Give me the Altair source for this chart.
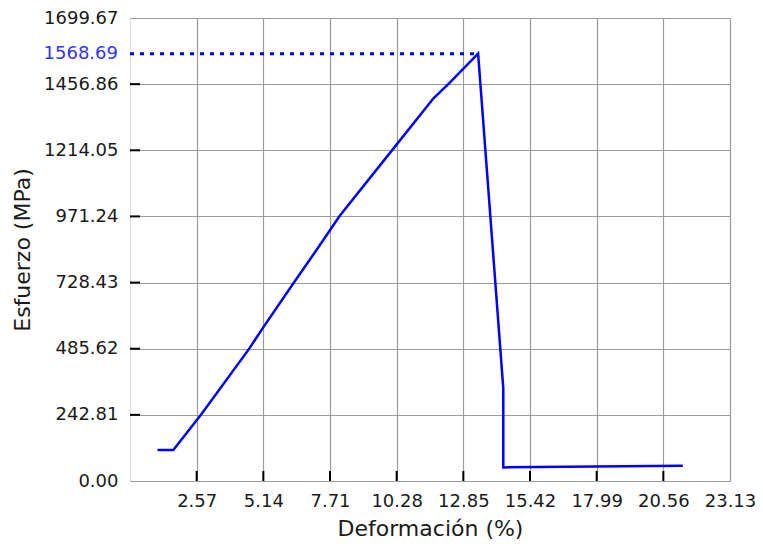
import altair as alt
import pandas as pd

# Curve
strain = [1.06, 1.67, 2.75, 4.59, 5.15, 6.30, 7.19, 8.08, 10.26, 11.70, 12.27, 13.42, 14.39, 14.39, 21.31]
stress = [114, 114, 245, 485, 566, 726, 848, 973, 1233, 1405, 1457, 1568.69, 340, 50, 56]

x_ticks = [2.57, 5.14, 7.71, 10.28, 12.85, 15.42, 17.99, 20.56, 23.13]
y_ticks = [0.00, 242.81, 485.62, 728.43, 971.24, 1214.05, 1456.86, 1699.67]
peak_x = 13.42
peak_y = 1568.69

FONT = "DejaVu Sans"
W, H = 600, 463

curve = pd.DataFrame({"x": strain, "y": stress, "i": list(range(len(strain)))})
peak_df = pd.DataFrame({"x": [0.0], "x2": [peak_x], "y": [peak_y], "lab": [f"{peak_y:.2f}"]})
xt_df = pd.DataFrame({"x": x_ticks[:-1]})
yt_df = pd.DataFrame({"y": y_ticks[1:-1]})

xs = alt.Scale(domain=[0, 23.13], nice=False, zero=False)
ys = alt.Scale(domain=[0, 1699.67], nice=False, zero=False)

xaxis = alt.Axis(values=x_ticks, format=".2f", title="Deformación (%)", grid=True,
                 gridColor="#9b9b9b", gridWidth=1.2, ticks=False, tickSize=0, domain=False,
                 labelFont=FONT, labelFontSize=18, labelColor="#1a1a1a", labelPadding=11,
                 labelFlush=False, labelOverlap=False, titleFont=FONT, titleFontSize=22,
                 titleFontWeight="normal", titleColor="#1a1a1a", titlePadding=8)
yaxis = alt.Axis(values=y_ticks, format=".2f", title="Esfuerzo (MPa)", grid=True,
                 gridColor="#9b9b9b", gridWidth=1.2, ticks=False, tickSize=0, domain=False,
                 labelFont=FONT, labelFontSize=18, labelColor="#1a1a1a", labelPadding=12,
                 labelFlush=False, labelOverlap=False, titleFont=FONT, titleFontSize=22,
                 titleFontWeight="normal", titleColor="#1a1a1a", titlePadding=9)


def X(field):
    return alt.X(field, type="quantitative", scale=xs, axis=xaxis)


def Y(field):
    return alt.Y(field, type="quantitative", scale=ys, axis=yaxis)


line = alt.Chart(curve).mark_line(color="#0000ff", strokeWidth=2.5).encode(
    x=X("x"), y=Y("y"), order="i:Q"
)

dotted = alt.Chart(peak_df).mark_rule(color="#0000ff", strokeWidth=3, strokeDash=[4, 6]).encode(
    x=X("x"), x2="x2", y=Y("y")
)

peak_label = alt.Chart(peak_df).mark_text(
    align="right", baseline="middle", font=FONT, fontSize=18, color="#3333ff"
).encode(x=alt.value(-12), y=Y("y"), text="lab:N")

xticks = alt.Chart(xt_df).mark_rule(color="black", strokeWidth=2).encode(
    x=X("x"), y=alt.value(H), y2=alt.value(H - 10)
)
yticks = alt.Chart(yt_df).mark_rule(color="black", strokeWidth=2).encode(
    y=Y("y"), x=alt.value(0), x2=alt.value(10)
)

chart = alt.layer(xticks, yticks, dotted, line, peak_label).properties(
    width=W, height=H,
    autosize=alt.AutoSizeParams(type="none"),
    padding={"left": 122, "top": 10, "right": 25, "bottom": 58},
).configure_view(stroke="black", strokeWidth=2).configure(background="white")

chart.save("out.html", embed_options={"renderer": "svg", "actions": False})
